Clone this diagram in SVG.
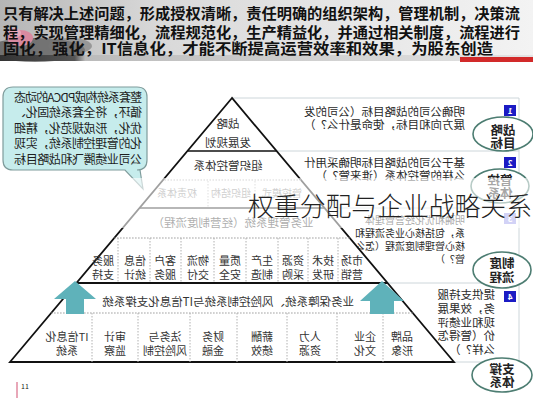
<svg xmlns="http://www.w3.org/2000/svg" width="533" height="400" viewBox="0 0 533 400">
<defs>
<linearGradient id="bandBg" x1="0" y1="0" x2="1" y2="0">
<stop offset="0" stop-color="#b5b5b5"/><stop offset="0.3" stop-color="#d9d9d9"/><stop offset="1" stop-color="#f3f3f3"/>
</linearGradient>
<linearGradient id="strip" x1="0" y1="0" x2="1" y2="0">
<stop offset="0" stop-color="#333"/><stop offset="0.14" stop-color="#555"/><stop offset="0.16" stop-color="#bbb"/><stop offset="1" stop-color="#e4e4e4"/>
</linearGradient>
<style>
.t{font-family:"Noto Sans CJK SC","Noto Sans",sans-serif;fill:#222}
.hd{font-size:15px;font-weight:bold;fill:#111}
.bb{font-size:12px;fill:#1e1e1e}
.pt{font-size:11.5px;fill:#2a2a2a}
.p3{font-size:10px;fill:#2a2a2a}
.py{font-size:11.5px;text-anchor:middle;fill:#333}
.col{font-size:11px;text-anchor:middle;fill:#333}
.sub{font-size:10px;text-anchor:middle;fill:#888}
.el{font-size:12.5px;text-anchor:middle;font-weight:bold;fill:#222}
.num{font-size:8px;font-weight:bold;text-anchor:middle;fill:#fff}
.ell{fill:#fff;stroke:#4d7d72;stroke-width:1.6}
.pl{stroke:#cdd6da;stroke-width:1;fill:none}
.blk{stroke:#111;fill:none}
.dot{stroke:#9a9a9a;stroke-width:1;stroke-dasharray:1.5 1.5;fill:none}
.vd{stroke:#b0b0b0;stroke-width:1;stroke-dasharray:1.5 1.5;fill:none}
.arr{fill:#5fb2ba}
</style>
</defs>
<rect width="533" height="400" fill="#fff"/>

<g id="header">
<rect x="0" y="0" width="533" height="56" fill="url(#bandBg)"/>
<ellipse cx="35" cy="50" rx="50" ry="12" fill="#5a5a5a" opacity="0.75"/>
<ellipse cx="70" cy="46" rx="22" ry="8" fill="#777" opacity="0.6"/>
<ellipse cx="20" cy="38" rx="13" ry="8" fill="#d98aa0"/>
<ellipse cx="14" cy="33" rx="7" ry="5" fill="#e7a9ba"/>
<rect x="0" y="55" width="533" height="6" fill="url(#strip)"/>
<rect x="460" y="57" width="73" height="5" fill="#d22a2a"/>
<text class="t hd" x="3" y="18.5" textLength="517" lengthAdjust="spacingAndGlyphs">只有解决上述问题，形成授权清晰，责任明确的组织架构，管理机制，决策流</text>
<text class="t hd" x="3" y="37.5" textLength="517" lengthAdjust="spacingAndGlyphs">程，实现管理精细化，流程规范化，生产精益化，并通过相关制度，流程进行</text>
<text class="t hd" x="3" y="54" textLength="490" lengthAdjust="spacingAndGlyphs">固化，强化，IT信息化，才能不断提高运营效率和效果，为股东创造</text>
</g>

<g id="diagram" transform="matrix(-1 0 0 1 533 0)">
<g id="callout">
<path d="M396 87 H520 Q530 87 530 97 V160 Q530 170 520 170 H408 L390 189 L393 170 H396 Q386 170 386 160 V97 Q386 87 396 87 Z" fill="#c6ecec" stroke="#7f9c9c" stroke-width="1.2"/>
<text class="t bb" x="391" y="101.5" textLength="128" lengthAdjust="spacing">整套系统构成PDCA的动态</text>
<text class="t bb" x="391" y="117" textLength="128" lengthAdjust="spacing">循环，将全套系统固化、</text>
<text class="t bb" x="391" y="132.5" textLength="128" lengthAdjust="spacing">优化，形成规范化，精细</text>
<text class="t bb" x="391" y="148" textLength="128" lengthAdjust="spacing">化的管理控制系统，实现</text>
<text class="t bb" x="391" y="163.5" textLength="128" lengthAdjust="spacing">公司业绩腾飞和战略目标</text>
</g>

<g id="panels">
<path class="pl" d="M14 98 H301 M14 151 H256 M14 208 H208 M14 283 H145 M14 362 H79 M14 98 V362"/>
</g>

<g id="panel-1">
<rect x="17" y="105" width="12" height="11" fill="#1b1bc4"/>
<text class="t num" x="23" y="113.5">1</text>
<text class="t pt" x="68" y="116">明确公司的战略目标（公司的发</text>
<text class="t pt" x="68" y="128.5">展方向和目标，使命是什么？）</text>
<ellipse class="ell" cx="30" cy="134" rx="30" ry="17"/>
<text class="t el" x="30" y="134.5">战略</text>
<text class="t el" x="30" y="147.5">目标</text>
</g>

<g id="panel-2">
<rect x="17" y="157" width="12" height="11" fill="#1b1bc4"/>
<text class="t num" x="23" y="165.5">2</text>
<text class="t pt" x="68" y="167">基于公司的战略目标明确采用什</text>
<text class="t pt" x="68" y="179.5">么样的管控体系（谁来管？）</text>
<ellipse class="ell" cx="33" cy="186" rx="29" ry="17"/>
<text class="t el" x="33" y="184.5">管控</text>
<text class="t el" x="33" y="197.5">体系</text>
</g>

<g id="panel-3">
<rect x="17" y="213" width="12" height="11" fill="#8f8fe8"/>
<text class="t num" x="23" y="221.5">3</text>
<text class="t p3" x="68" y="223.5">明确和优化经营管理体</text>
<text class="t p3" x="68" y="236.5">系，包括核心业务流程和</text>
<text class="t p3" x="68" y="249.5">核心管理制度流程（怎么</text>
<text class="t p3" x="68" y="262.5">管？）</text>
<ellipse class="ell" cx="31" cy="270" rx="29" ry="18"/>
<text class="t el" x="31" y="268">制度</text>
<text class="t el" x="31" y="282">流程</text>
</g>

<g id="panel-4">
<rect x="17" y="291" width="12" height="11" fill="#1b1bc4"/>
<text class="t num" x="23" y="299.5">4</text>
<text class="t pt" x="38" y="299">提供支持服</text>
<text class="t pt" x="38" y="313">务，效果展</text>
<text class="t pt" x="38" y="326.5">现和业绩评</text>
<text class="t pt" x="38" y="340">价（管得怎</text>
<text class="t pt" x="38" y="354">么样？）</text>
<ellipse class="ell" cx="31" cy="375" rx="30" ry="17"/>
<text class="t el" x="31" y="373.5">支撑</text>
<text class="t el" x="31" y="386.5">体系</text>
</g>

<g id="pyramid">
<polygon points="301,98 523,362 79,362" fill="#fff" stroke="#111" stroke-width="1.8" stroke-linejoin="miter"/>
<path class="blk" stroke-width="1.5" d="M256.5 151 H345.5"/>
<path class="dot" d="M232 180 H370"/>
<path class="blk" stroke-width="1.3" d="M208.6 208 H393.4"/>
<path class="dot" d="M183.4 238 H418.6"/>
<path class="blk" stroke-width="2" d="M145.6 283 H456.4"/>
<path class="dot" d="M120.4 313 H481.6"/>
<path class="blk" stroke-width="2" d="M79.2 362 H522.8"/>
</g>

<g id="level-strategy">
<text class="t py" x="305" y="127.5">战略</text>
<text class="t py" x="305" y="146.5">发展规划</text>
</g>

<g id="level-org">
<text class="t py" x="305" y="169.5">组织管控体系</text>
<path class="vd" d="M325 181 V207 M278 181 V207"/>
<text class="t sub" x="356" y="196.5">权责体系</text>
<text class="t sub" x="302" y="196.5">组织结构</text>
<text class="t sub" x="251" y="196.5">管控模式</text>
</g>

<g id="level-business">
<text class="t py" x="300" y="227">业务管理系统（经营制度流程）</text>
<path class="vd" d="M415 238 V283 M383 238 V283 M352 238 V283 M319 238 V283 M287 238 V283 M255 238 V283 M225 238 V283 M195 238 V283"/>
<text class="t col" x="430" y="265">服务</text><text class="t col" x="430" y="278.5">支持</text>
<text class="t col" x="398" y="265">信息</text><text class="t col" x="398" y="278.5">统计</text>
<text class="t col" x="368" y="265">客户</text><text class="t col" x="368" y="278.5">服务</text>
<text class="t col" x="335" y="265">物流</text><text class="t col" x="335" y="278.5">交付</text>
<text class="t col" x="303" y="265">质量</text><text class="t col" x="303" y="278.5">安全</text>
<text class="t col" x="271" y="265">生产</text><text class="t col" x="271" y="278.5">制造</text>
<text class="t col" x="240" y="265">资源</text><text class="t col" x="240" y="278.5">采购</text>
<text class="t col" x="210" y="265">技术</text><text class="t col" x="210" y="278.5">研发</text>
<text class="t col" x="181" y="265">市场</text><text class="t col" x="181" y="278.5">营销</text>
</g>

<g id="level-support">
<text class="t py" x="305" y="306">业务保障系统、风险控制系统与IT信息化支撑系统</text>
<path class="vd" d="M441 313 V362 M395 313 V362 M343 313 V362 M296 313 V362 M246 313 V362 M196 313 V362 M150 313 V362"/>
<text class="t col" x="466" y="341">IT信息化</text><text class="t col" x="466" y="355">系统</text>
<text class="t col" x="418" y="341">审计</text><text class="t col" x="418" y="355">监察</text>
<text class="t col" x="368" y="341">法务与</text><text class="t col" x="368" y="355">风险控制</text>
<text class="t col" x="320" y="341">财务</text><text class="t col" x="320" y="355">金融</text>
<text class="t col" x="271" y="341">薪酬</text><text class="t col" x="271" y="355">绩效</text>
<text class="t col" x="223" y="341">人力</text><text class="t col" x="223" y="355">资源</text>
<text class="t col" x="168" y="341">企业</text><text class="t col" x="168" y="355">文化</text>
<text class="t col" x="131" y="341">品牌</text><text class="t col" x="131" y="355">形象</text>
</g>

<g id="connectors">
<polygon class="arr" points="458,281 479,299 467,299 467,314 449,314 449,299 437,299"/>
<polygon class="arr" points="151,281 173,301 163,301 163,314 139,314 139,301 129,301"/>
</g>
</g>

<rect x="110" y="178" width="423" height="50" fill="#fff" opacity="0.6"/>

<g id="title">
<text class="t" x="248" y="216" font-size="26" font-weight="300" fill="#1a1a1a" textLength="284" lengthAdjust="spacingAndGlyphs">权重分配与企业战略关系</text>
</g>

<g id="page-mark">
<path d="M17 382 V398" stroke="#e08aa0" stroke-width="1.5"/>
<text class="t" x="21" y="389" font-size="7" fill="#999">11</text>
</g>
</svg>
